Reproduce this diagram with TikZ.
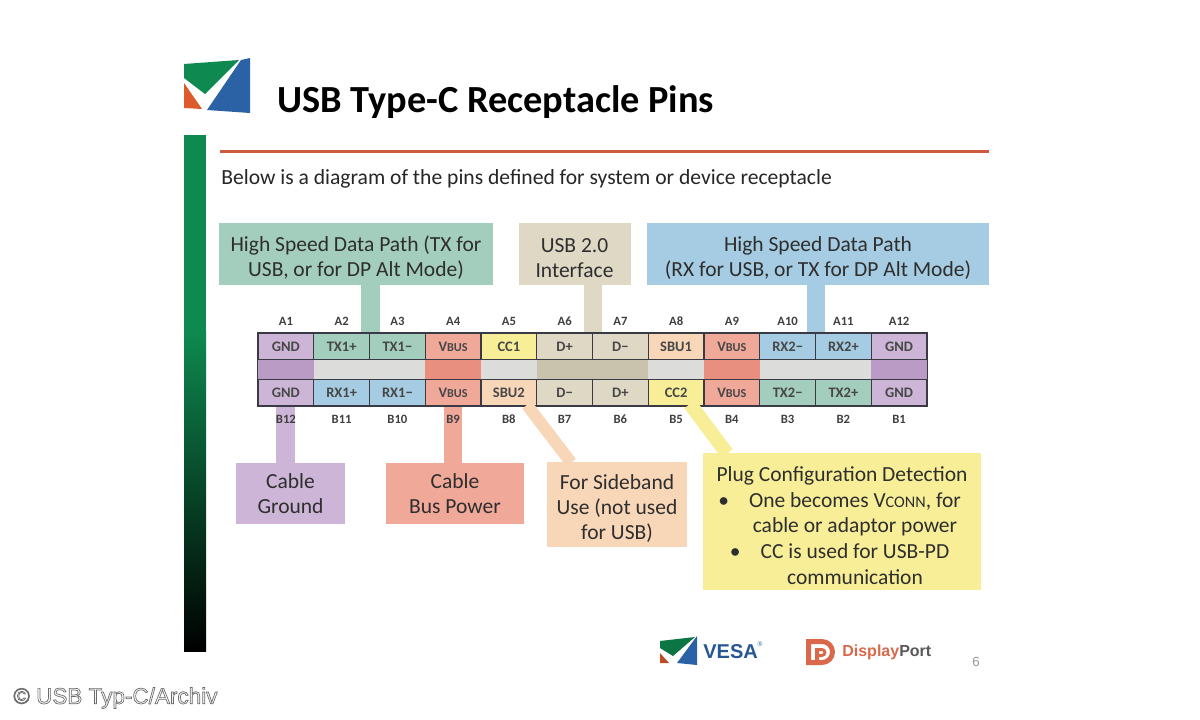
\documentclass[tikz,border=0pt]{standalone}
\usepackage{fontspec}
\setmainfont{Carlito}
\newfontfamily\wmfont{Liberation Sans}
\definecolor{cgnd}{HTML}{CDB5D8}\definecolor{cgndm}{HTML}{B99BC6}
\definecolor{ctx}{HTML}{A3CDBC}\definecolor{crx}{HTML}{A5CCE2}
\definecolor{cbus}{HTML}{F0A899}\definecolor{cbusm}{HTML}{E98F7F}
\definecolor{ccc}{HTML}{F8EE98}\definecolor{cusb}{HTML}{DFD8C4}\definecolor{cusbm}{HTML}{C9C2AC}
\definecolor{csbu}{HTML}{F8D6B8}\definecolor{cgrey}{HTML}{DCDCDA}
\definecolor{cframe}{HTML}{3A3A44}
\definecolor{lgreen}{HTML}{0E8A50}\definecolor{lblue}{HTML}{2B62A6}\definecolor{lorange}{HTML}{DD5A2C}
\definecolor{cline}{HTML}{CE5B3E}\definecolor{cdp}{HTML}{D9694A}
\newcommand{\fs}[2]{\fontsize{#1}{#2}\selectfont}
\newcommand{\vbus}{V{\fs{7.3}{8}BUS}}
\newcommand{\dropline}{\rule{0pt}{13.5pt}}
\tikzset{x=0.6pt,y=-0.6pt,
 pin/.style={draw=cframe,line width=0.7pt,minimum width=33.45pt,minimum height=16.2pt,inner sep=0pt,font=\fs{8.7}{9}\bfseries,text=black!72},
 pinlabel/.style={font=\fs{7.6}{8}\bfseries,text=black!75,inner sep=0pt,text height=5pt,text depth=0pt},
 midcell/.style={minimum width=33.45pt,minimum height=11.4pt,inner sep=0pt},
 infobox/.style={inner sep=0pt,align=center,text=black!82,font=\fs{12.9}{15}},
 feed/.style={line width=#1*0.6pt}}
\begin{document}
\begin{tikzpicture}
\useasboundingbox (0,0) rectangle (1200,720);
\fill[white] (0,0) rectangle (1200,720);
% logo
\fill[lgreen] (184,64)--(239,60)--(205,94)--(184,78)--cycle;
\fill[lblue] (241,60)--(250,58)--(250,113)--(207,110)--cycle;
\fill[lorange] (184,83)--(202,109)--(184,108)--cycle;
\node[anchor=west,inner sep=0pt,font=\fs{23}{26}\bfseries] (title) at (277,102) {USB Type-C Receptacle Pins};
% bar
\fill[lgreen] (184,135) rectangle (206,330.5);
\shade[top color=lgreen,bottom color=black] (184,330) rectangle (206,651);
\fill[cline] (220,149.5) rectangle (989,152.5);
\node[anchor=west,inner sep=0pt,font=\fs{12.95}{14},text=black!85] (sub) at (221,179) {Below is a diagram of the pins defined for system or device receptacle};
% info boxes
\node[infobox,fill=ctx,minimum width=164.4pt,minimum height=37.2pt] (hstx) at (356,254) {\dropline High Speed Data Path (TX for\\USB, or for DP Alt Mode)};
\node[infobox,fill=cusb,minimum width=67.2pt,minimum height=37.2pt] (usb) at (574.5,254) {\dropline USB 2.0\\Interface};
\node[infobox,fill=crx,minimum width=205.2pt,minimum height=37.2pt] (hsrx) at (818,254) {\dropline High Speed Data Path\\(RX for USB, or TX for DP Alt Mode)};
\node[infobox,fill=cgnd,minimum width=65.4pt,minimum height=36.6pt] (cg) at (290.5,493.5) {Cable\\Ground};
\node[infobox,fill=cbus,minimum width=82.8pt,minimum height=36.6pt] (cb) at (455,493.5) {Cable\\Bus Power};
\node[infobox,fill=csbu,minimum width=84pt,minimum height=51pt] (sb) at (617,504.5) {\dropline For Sideband\\Use (not used\\for USB)};
\node[infobox,fill=ccc,minimum width=166.8pt,minimum height=82.2pt] (pc) at (842,521.5) {\dropline Plug Configuration Detection\\[0.4pt]
 \hspace*{15.6pt}\llap{\textbullet\hspace{12pt}}One becomes V{\fs{9.7}{10}CONN}, for\\[0.4pt]
 \hspace*{15.6pt}cable or adaptor power\\[0.4pt]
 \hspace*{15.6pt}\llap{\textbullet\hspace{12pt}}CC is used for USB-PD\\[0.4pt]
 \hspace*{15.6pt}communication};
% pins
\foreach \n/\lab/\col [count=\i from 0] in {a1/GND/cgnd,a2/TX1+/ctx,a3/TX1−/ctx,a4/\vbus/cbus,a5/CC1/ccc,a6/D+/cusb,a7/D−/cusb,a8/SBU1/csbu,a9/\vbus/cbus,a10/RX2−/crx,a11/RX2+/crx,a12/GND/cgnd}{
 \node[pin,fill=\col] (\n) at ({258+55.75*(\i+0.5)},346.5) {\lab};
}
\foreach \n/\lab/\col [count=\i from 0] in {b12/GND/cgnd,b11/RX1+/crx,b10/RX1−/crx,b9/\vbus/cbus,b8/SBU2/csbu,b7/D−/cusb,b6/D+/cusb,b5/CC2/ccc,b4/\vbus/cbus,b3/TX2−/ctx,b2/TX2+/ctx,b1/GND/cgnd}{
 \node[pin,fill=\col] (\n) at ({258+55.75*(\i+0.5)},392.5) {\lab};
}
\foreach \n/\col [count=\i from 0] in {m1/cgndm,m2/cgrey,m3/cgrey,m4/cbusm,m5/cgrey,m6/cusbm,m7/cusbm,m8/cgrey,m9/cbusm,m10/cgrey,m11/cgrey,m12/cgndm}{
 \node[midcell,fill=\col] (\n) at ({258+55.75*(\i+0.5)},369.5) {};
}
\draw[cframe,line width=0.7pt] (a1.north west) -- (b12.south west);
\draw[cframe,line width=0.7pt] (a12.north east) -- (b1.south east);
% feeders
\draw[ctx,feed=19] (hstx.south -| a2.north east) -- (a2.north east);
\draw[cusb,feed=18] (usb.south -| a6.north east) -- (a6.north east);
\draw[crx,feed=18] (hsrx.south -| a10.north east) -- (a10.north east);
\draw[cgnd,feed=19] (b12.south) -- (b12.south |- cg.north);
\draw[cbus,feed=18] (b9.south) -- (b9.south |- cb.north);
\coordinate (sbfrom) at (527,405); \coordinate (sbto) at (571,462.5);
\coordinate (pcfrom) at (690,404); \coordinate (pcto) at (727,453.5);
\draw[csbu,feed=12] (sbfrom) -- (sbto);
\draw[ccc,feed=14] (pcfrom) -- (pcto);
% pin labels
\foreach \t [count=\i from 0] in {A1,A2,A3,A4,A5,A6,A7,A8,A9,A10,A11,A12}{
 \node[pinlabel] (lab\t) at ({258+55.75*(\i+0.5)},321) {\t};
}
\foreach \t [count=\i from 0] in {B12,B11,B10,B9,B8,B7,B6,B5,B4,B3,B2,B1}{
 \node[pinlabel] (lab\t) at ({258+55.75*(\i+0.5)},419) {\t};
}
% VESA logo
\fill[lgreen!85!black] (660,641)--(695,637)--(673,656)--(660,648)--cycle;
\fill[lblue] (697,636)--(697,665)--(677,663)--cycle;
\fill[lorange!85!black] (660,653)--(669,663)--(660,663)--cycle;
\node[anchor=west,inner sep=0pt,font=\wmfont\fs{12}{13}\bfseries,text=lblue!90!black] (vesa) at (703,652) {VESA};
\node[inner sep=0pt,font=\wmfont\fs{4}{5},text=lblue] (reg) at (760,644) {®};
% DP logo
\fill[cdp,even odd rule] (806,639) -- (822,639) arc[start angle=-90,end angle=90,radius=13] -- (806,665) -- cycle
 (811,644) -- (811,660) -- (822,660) arc[start angle=90,end angle=-90,radius=8] -- cycle;
\fill[cdp,even odd rule] (815,648) -- (822,648) arc[start angle=-90,end angle=90,radius=4.5] -- (819,657) -- (819,660) -- (815,660) -- cycle
 (819,651) -- (819,654) -- (822,654) arc[start angle=90,end angle=-90,radius=1.5] -- cycle;
\node[anchor=west,inner sep=0pt,font=\wmfont\fs{9.6}{11}\bfseries,text=cdp] (dp) at (842,652) {Display\textcolor{black!65}{Port}};
\node[inner sep=0pt,font=\wmfont\fs{8}{9},text=black!40] (pg) at (976,662) {6};
% watermark
\node[anchor=west,inner sep=0pt,font=\wmfont\fs{13.5}{14}] (wm) at (13,698) {\special{pdf:code q 2 Tr 0.4 w 0.42 0.42 0.42 RG 0.96 0.96 0.96 rg}© USB Typ-C/Archiv\special{pdf:code 0 Tr Q}};
\end{tikzpicture}
\end{document}
